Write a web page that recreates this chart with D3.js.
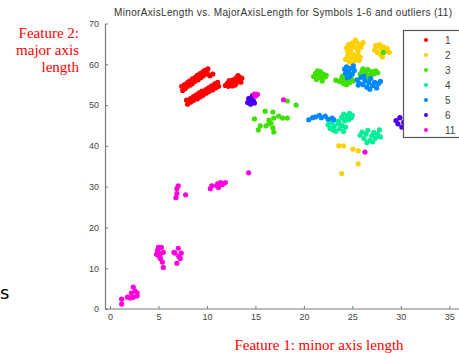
<!DOCTYPE html>
<html>
<head>
<meta charset="utf-8">
<script src="https://cdn.jsdelivr.net/npm/d3@7"></script>
<style>
  body { margin: 0; background: #fff; }
  svg { display: block; }
</style>
</head>
<body>
<div id="chart"></div>
<script>
// symbols shown in the legend
const symbols = ["1", "2", "3", "4", "5", "6", "11"];
const colors = ["#ff0000", "#ffd000", "#3fe000", "#00ee99", "#0088ff", "#4a00ee", "#ff00dd"];
const xTicks = [0, 5, 10, 15, 20, 25, 30, 35];
const yTicks = [0, 10, 20, 30, 40, 50, 60, 70];

// [minor axis, major axis] per symbol
const sym1 = [
  [7.4,54.6],[7.5,53.6],[7.7,55.0],[7.75,54.0],[8.0,55.5],[7.95,54.5],[8.2,55.9],[8.3,54.9],
  [8.5,56.4],[8.5,55.3],[8.8,56.8],[8.75,55.8],[9.0,57.3],[9.1,56.2],[9.3,57.7],[9.35,56.7],
  [9.6,58.2],[9.6,57.1],[9.8,58.5],[9.9,57.6],[10.1,58.9],[10.0,58.0],[7.6,54.3],[8.1,55.1],
  [8.6,55.9],[9.2,56.9],[9.7,57.8],[10.6,57.6],[10.3,57.2],
  [7.9,51.2],[8.0,50.2],[8.3,51.6],[8.3,50.7],[8.6,52.1],[8.6,51.1],[8.9,52.5],[9.0,51.5],
  [9.2,53.0],[9.3,52.0],[9.5,53.4],[9.6,52.4],[9.9,53.8],[9.9,52.9],[10.2,54.3],[10.2,53.3],
  [10.5,54.7],[10.6,53.7],[10.8,55.2],[10.9,54.2],[11.1,55.6],[11.2,54.6],[8.1,50.7],[8.8,51.8],
  [9.4,52.7],[10.0,53.5],[10.7,54.3],
  [11.9,54.8],[12.1,55.3],[12.2,54.6],[12.4,55.8],[12.5,55.1],[12.7,56.2],[12.8,55.5],[12.9,54.9],
  [13.0,56.6],[13.1,55.9],[13.3,56.9],[13.4,56.2],[13.6,56.6],[13.5,55.6],[12.3,56.0],[12.6,54.7],
  [13.2,57.2],[13.0,55.2]
];
const sym2 = [
  [24.4,64.0],[24.6,64.8],[24.8,63.5],[25.0,65.2],[25.2,64.3],[25.4,65.6],[25.5,63.8],[25.7,64.9],
  [25.9,64.2],[26.1,65.3],[24.9,64.5],[25.6,63.3],[25.3,65.9],[24.5,63.3],
  [24.3,61.2],[24.5,62.0],[24.7,60.6],[24.9,61.6],[25.1,62.5],[25.3,60.9],[25.4,61.8],[25.6,62.3],
  [25.7,61.0],[24.6,62.7],[25.0,60.3],[25.8,61.7],
  [27.3,63.5],[27.5,64.3],[27.6,62.9],[27.8,64.8],[28.0,63.8],[28.2,64.3],[28.4,63.2],[28.6,63.9],
  [27.9,62.4],[28.1,61.8],[27.4,64.6],[28.8,62.9],
  [23.6,40.0],[24.1,40.0],[25.05,39.2],[25.6,38.8],[25.6,35.6],[23.9,33.2]
];
const sym3 = [
  [16.0,48.5],[16.8,48.3],[14.9,46.6],[16.4,46.3],[16.9,46.8],[17.4,47.3],[15.5,44.9],[15.3,43.9],
  [16.1,44.9],[16.6,45.6],[16.8,44.4],[16.9,43.4],[16.4,45.4],[18.3,51.0],[19.2,50.0],[17.8,46.8],
  [18.3,46.8],
  [21.0,57.0],[21.2,57.8],[21.3,56.3],[21.5,57.4],[21.7,58.2],[21.8,56.6],[22.0,57.6],[22.2,56.9],
  [21.4,58.4],[21.9,55.9],[22.3,57.3],
  [23.3,56.1],[23.7,55.8],[23.9,56.6],[24.1,55.3],[24.3,56.1],[24.5,56.9],[24.7,55.5],[24.9,56.4],
  [25.1,55.9],[24.4,55.0],[24.0,57.1],
  [25.8,57.6],[26.0,58.4],[26.2,57.0],[26.4,58.0],[26.6,58.7],[26.8,57.3],[27.0,58.2],[27.2,57.6],
  [27.4,58.4],[27.6,57.9],[26.5,56.7],[26.1,58.9],[28.2,62.9]
];
const sym4 = [
  [23.9,47.0],[24.1,47.8],[24.3,46.5],[24.5,47.4],[24.7,48.0],[24.9,46.9],[24.2,46.2],[24.6,46.4],
  [25.0,47.5],
  [22.5,45.2],[22.7,44.3],[22.9,45.8],[23.1,44.8],[23.3,43.6],[23.5,45.4],[23.7,44.2],[23.9,45.0],
  [24.1,43.5],[24.3,44.6],[23.0,43.9],[23.6,46.0],
  [25.8,42.6],[26.0,43.4],[26.2,41.8],[26.4,42.9],[26.6,43.8],[26.8,41.3],[27.0,42.4],[27.2,43.3],
  [27.4,41.9],[27.6,42.8],[27.8,43.9],[26.5,40.8],[27.1,41.0],[27.9,42.2]
];
const sym5 = [
  [24.2,58.8],[24.4,59.4],[24.6,58.2],[24.8,59.0],[25.0,57.6],[25.2,58.5],[24.3,57.8],[24.7,57.0],
  [25.1,59.6],[24.5,56.7],
  [25.5,56.2],[25.7,55.4],[25.9,56.8],[26.1,55.0],[26.3,56.0],[26.5,54.4],[26.7,55.5],[26.9,56.5],
  [27.1,54.8],[27.3,55.6],[27.5,54.2],[27.7,55.3],[26.2,57.1],[25.6,54.9],[26.8,53.9],[27.9,55.8],
  [20.5,46.4],[20.9,46.9],[21.2,47.1],[21.6,47.5],[21.8,46.9],[22.2,47.3],[22.5,46.5],[22.9,46.8],
  [23.1,46.4]
];
const sym6 = [
  [14.2,50.6],[14.4,51.2],[14.5,50.2],[14.6,51.8],[14.8,51.0],[14.9,50.5],[14.3,51.6],[14.7,52.3],
  [29.5,46.2],[29.7,45.4],[29.9,46.9],[30.1,44.6],[30.3,45.8],[30.5,47.2],[30.6,44.8],[30.9,46.0],
  [31.2,45.2]
];
const sym11 = [
  [14.9,52.7],[15.0,52.2],[15.2,52.6],[17.9,51.3],[14.3,33.4],[26.3,38.5],
  [7.04,30.2],[6.9,29.5],[6.9,28.3],[6.8,27.3],[7.8,28.0],
  [10.35,29.5],[10.5,30.2],[11.1,30.7],[11.4,31.0],[11.6,30.5],[11.9,31.0],[11.2,29.8],[11.0,30.2],
  [5.0,15.1],[5.3,15.1],[4.9,14.4],[4.8,13.4],[5.1,12.9],[5.2,12.4],[5.4,11.5],[5.5,10.2],
  [5.5,13.9],[5.2,13.6],
  [7.04,14.9],[6.7,13.7],[7.35,13.7],[7.1,12.9],[7.25,12.4],[6.9,11.2],[6.6,13.9],
  [1.2,1.2],[1.2,2.4],[1.8,2.9],[2.2,3.9],[2.4,5.4],[2.6,4.4],[2.8,3.9],[2.4,2.9],[2.8,3.2],[2.1,2.7]
];
const series = [sym1, sym2, sym3, sym4, sym5, sym6, sym11];

const width = 459, height = 353;
const svg = d3.select("#chart").append("svg")
  .attr("width", width)
  .attr("height", height);

// scales: 0 sits at x=110, 35 at x=449; y 0 at 309, 70 at 23.5
const x = d3.scaleLinear().domain([0, 35]).range([110, 449.3]);
const y = d3.scaleLinear().domain([0, 70]).range([309, 23.5]);
const axisGray = "#7a7a7a";

// points
series.forEach((pts, i) => {
  svg.append("g")
    .selectAll("circle")
    .data(pts)
    .enter()
    .append("circle")
    .attr("cx", d => x(d[0]))
    .attr("cy", d => y(d[1]))
    .attr("r", 2.6)
    .attr("fill", colors[i]);
});

// x axis (ticks point inward)
const xAxis = svg.append("g")
  .attr("transform", "translate(0,309)")
  .call(d3.axisBottom(x).tickValues(xTicks).tickSize(-3).tickPadding(5).tickSizeOuter(0));
xAxis.select(".domain").attr("d", `M105,0H${width}`);

// y axis
const yAxis = svg.append("g")
  .attr("transform", "translate(105,0)")
  .call(d3.axisLeft(y).tickValues(yTicks).tickSize(-3).tickPadding(5).tickSizeOuter(0));

[xAxis, yAxis].forEach(g => {
  g.select(".domain").attr("stroke", axisGray).attr("stroke-width", 1.2);
  g.selectAll(".tick line").attr("stroke", axisGray);
  g.selectAll("text")
    .attr("fill", "#444")
    .style("font-family", "Liberation Sans, Arial, sans-serif")
    .style("font-size", "9px");
});
yAxis.selectAll(".tick text").attr("dx", "-1");

// title
svg.append("text")
  .attr("x", 283)
  .attr("y", 16)
  .attr("text-anchor", "middle")
  .attr("fill", "#333")
  .attr("textLength", 338)
  .attr("lengthAdjust", "spacing")
  .style("font-family", "Liberation Sans, Arial, sans-serif")
  .style("font-size", "10px")
  .text("MinorAxisLength vs. MajorAxisLength for Symbols 1-6 and outliers (11)");

// legend
const legend = svg.append("g");
legend.append("rect")
  .attr("x", 403.5)
  .attr("y", 30.5)
  .attr("width", 70)
  .attr("height", 107)
  .attr("fill", "#fff")
  .attr("stroke", "#555")
  .attr("stroke-width", 1.2);
symbols.forEach((s, i) => {
  const ly = 40 + i * 15;
  legend.append("circle")
    .attr("cx", 426)
    .attr("cy", ly)
    .attr("r", 2)
    .attr("fill", colors[i]);
  legend.append("text")
    .attr("x", 445)
    .attr("y", ly + 4)
    .attr("fill", "#444")
    .style("font-family", "Liberation Sans, Arial, sans-serif")
    .style("font-size", "10px")
    .text(s);
});

// red annotation labels
const serif = "Liberation Serif, Times New Roman, serif";
["Feature 2:", "major axis", "length"].forEach((t, i) => {
  svg.append("text")
    .attr("x", 79)
    .attr("y", 38 + i * 17)
    .attr("text-anchor", "end")
    .attr("fill", "#ff0000")
    .style("font-family", serif)
    .style("font-size", "15px")
    .text(t);
});
svg.append("text")
  .attr("x", 319)
  .attr("y", 350)
  .attr("text-anchor", "middle")
  .attr("fill", "#ff0000")
  .style("font-family", serif)
  .style("font-size", "15px")
  .text("Feature 1: minor axis length");

// stray letter at the left edge
svg.append("text")
  .attr("x", 0)
  .attr("y", 299)
  .attr("fill", "#000")
  .style("font-family", "DejaVu Sans, sans-serif")
  .style("font-size", "18px")
  .text("s");
</script>
</body>
</html>
